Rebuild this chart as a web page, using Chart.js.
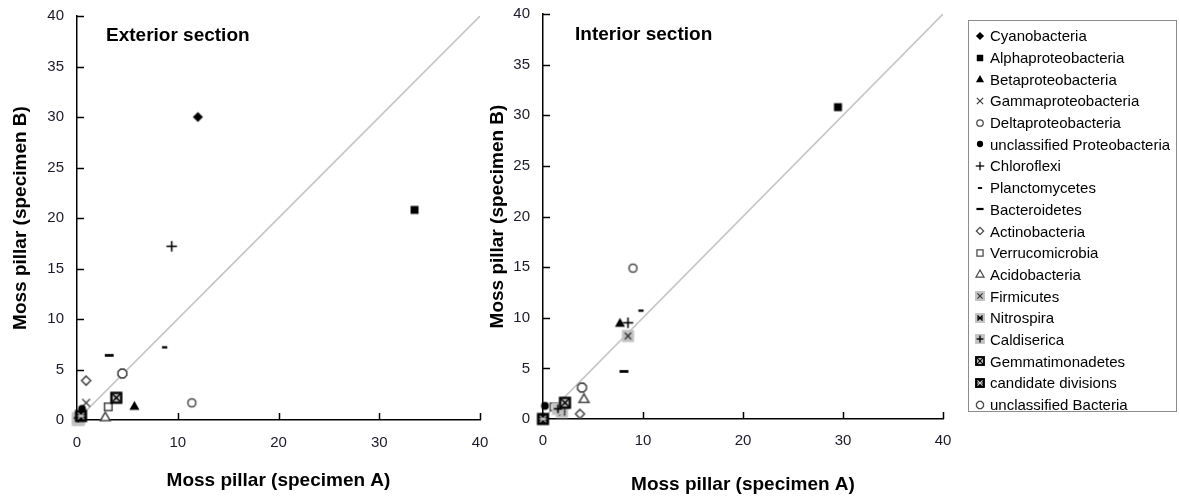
<!DOCTYPE html>
<html>
<head>
<meta charset="utf-8">
<script src="https://cdn.jsdelivr.net/npm/chart.js@4/dist/chart.umd.min.js"></script>
<style>
  html, body { margin: 0; padding: 0; background: #fff; }
  body { width: 1179px; height: 499px; position: relative; overflow: hidden; font-family: "Liberation Sans", Arial, sans-serif; }
  #c1 { position: absolute; left: 0; top: 0; }
  #c2 { position: absolute; left: 470px; top: 0; }
  #legend { position: absolute; left: 968px; top: 20px; width: 209px; height: 392px; border: 1px solid #8c8c8c; box-sizing: border-box; padding-top: 4px; }
  .row { display: flex; align-items: center; height: 21.7px; font-size: 15px; color: #000; white-space: nowrap; }
  .row canvas { margin-left: 1px; }
</style>
</head>
<body>
<canvas id="c1" width="495" height="499"></canvas>
<canvas id="c2" width="490" height="499"></canvas>
<div id="legend"></div>
<script>
// ---- data ----
const categories = ["Cyanobacteria","Alphaproteobacteria","Betaproteobacteria","Gammaproteobacteria","Deltaproteobacteria","unclassified Proteobacteria","Chloroflexi","Planctomycetes","Bacteroidetes","Actinobacteria","Verrucomicrobia","Acidobacteria","Firmicutes","Nitrospira","Caldiserica","Gemmatimonadetes","candidate divisions","unclassified Bacteria"];
const markerTypes = ["diamondFill","squareFill","triFill","x","circleOpen","circleFill","plus","dashShort","dashLong","diamondOpen","squareOpen","triOpen","grayX","grayStar","grayPlus","blackX","blackStar","octOpen"];
const exteriorA = [12.0, 33.5, 5.7, 0.9, 11.4, 0.5, 9.4, 8.7, 3.2, 0.9, 3.1, 2.8, 0.1, 0.2, 0.1, 3.9, 0.4, 4.5];
const exteriorB = [30.0, 20.8, 1.4, 1.7, 1.7, 1.1, 17.2, 7.2, 6.4, 3.9, 1.3, 0.3, 0.0, 0.1, 0.2, 2.2, 0.4, 4.6];
const interiorA = [0.1, 29.5, 7.7, 0.1, 9.0, 0.2, 8.5, 9.8, 8.1, 3.7, 1.1, 4.1, 8.5, 1.9, 1.5, 2.2, 0.0, 3.9];
const interiorB = [0.1, 30.8, 9.5, 0.1, 14.9, 1.3, 9.5, 10.7, 4.7, 0.5, 1.2, 2.0, 8.2, 0.7, 1.0, 1.6, 0.0, 3.1];
const xTicks = [0, 10, 20, 30, 40];
const yTicks = [0, 5, 10, 15, 20, 25, 30, 35, 40];
const panelTitles = ["Exterior section", "Interior section"];
const xTitle = "Moss pillar (specimen A)";
const yTitle = "Moss pillar (specimen B)";

// ---- markers ----
function makeMarker(type, s) {
  const size = Math.ceil(18 * s);
  const c = document.createElement('canvas');
  c.width = size; c.height = size;
  const g = c.getContext('2d');
  g.translate(size / 2, size / 2);
  g.scale(s, s);
  const poly = (pts) => { g.beginPath(); pts.forEach((p, i) => i ? g.lineTo(p[0], p[1]) : g.moveTo(p[0], p[1])); g.closePath(); };
  const line = (a, b, c2, d) => { g.beginPath(); g.moveTo(a, b); g.lineTo(c2, d); g.stroke(); };
  const openStyle = () => { g.fillStyle = '#fff'; g.fill(); g.strokeStyle = '#4a4a4a'; g.lineWidth = 1.5; g.stroke(); };
  switch (type) {
    case 'diamondFill': poly([[0,-4.8],[4.8,0],[0,4.8],[-4.8,0]]); g.fillStyle = '#000'; g.fill(); break;
    case 'squareFill': g.fillStyle = '#000'; g.fillRect(-3.8,-3.8,7.6,7.6); break;
    case 'triFill': poly([[0,-4.8],[4.8,3.8],[-4.8,3.8]]); g.fillStyle = '#000'; g.fill(); break;
    case 'x': g.strokeStyle = '#333'; g.lineWidth = 1.3; line(-3.7,-3.7,3.7,3.7); line(-3.7,3.7,3.7,-3.7); break;
    case 'circleOpen': g.beginPath(); g.arc(0,0,3.8,0,Math.PI*2); openStyle(); break;
    case 'circleFill': g.beginPath(); g.arc(0,0,3.7,0,Math.PI*2); g.fillStyle = '#000'; g.fill(); break;
    case 'plus': g.strokeStyle = '#000'; g.lineWidth = 1.5; line(-5,0,5,0); line(0,-5,0,5); break;
    case 'dashShort': g.fillStyle = '#000'; g.fillRect(-2.5,-1.1,5,2.2); break;
    case 'dashLong': g.fillStyle = '#000'; g.fillRect(-4.2,-1.3,8.4,2.6); break;
    case 'diamondOpen': poly([[0,-4.3],[4.3,0],[0,4.3],[-4.3,0]]); openStyle(); break;
    case 'squareOpen': poly([[-3.6,-3.6],[3.6,-3.6],[3.6,3.6],[-3.6,3.6]]); openStyle(); break;
    case 'triOpen': poly([[0,-4.7],[4.7,3.6],[-4.7,3.6]]); openStyle(); break;
    case 'grayX': g.fillStyle = '#c2c2c2'; g.fillRect(-5.8,-5.8,11.6,11.6); g.strokeStyle = '#333'; g.lineWidth = 1.3; line(-3,-3,3,3); line(-3,3,3,-3); break;
    case 'grayStar': g.fillStyle = '#c2c2c2'; g.fillRect(-5.8,-5.8,11.6,11.6); g.strokeStyle = '#000'; g.lineWidth = 1.5; line(-3,-3,3,3); line(-3,3,3,-3); line(-3.5,0,3.5,0); break;
    case 'grayPlus': g.fillStyle = '#c2c2c2'; g.fillRect(-5.8,-5.8,11.6,11.6); g.strokeStyle = '#000'; g.lineWidth = 1.6; line(-4,0,4,0); line(0,-4,0,4); break;
    case 'blackX': g.fillStyle = '#000'; g.fillRect(-5.8,-5.8,11.6,11.6); g.fillStyle = '#bdbdbd'; g.fillRect(-3.6,-3.6,7.2,7.2); g.strokeStyle = '#000'; g.lineWidth = 1.3; line(-3.6,-3.6,3.6,3.6); line(-3.6,3.6,3.6,-3.6); break;
    case 'blackStar': g.fillStyle = '#000'; g.fillRect(-5.8,-5.8,11.6,11.6); g.strokeStyle = '#d0d0d0'; g.lineWidth = 1.2; line(-3,-3,3,3); line(-3,3,3,-3); line(-3.5,0,3.5,0); break;
    case 'octOpen': {
      const r = 4.5, pts = [];
      for (let i = 0; i < 8; i++) { const a = Math.PI / 8 + i * Math.PI / 4; pts.push([r * Math.cos(a), r * Math.sin(a)]); }
      poly(pts); openStyle(); break;
    }
  }
  return c;
}
const chartMarkers = markerTypes.map(t => makeMarker(t, 1.05));

// ---- plugin: inward ticks and panel title ----
const innerTicks = {
  id: 'innerTicks',
  beforeDatasetsDraw(chart, args, opts) {
    const { ctx, chartArea: a, scales: { x, y } } = chart;
    ctx.save();
    ctx.strokeStyle = '#000';
    ctx.lineWidth = 1.5;
    x.ticks.forEach(t => {
      if (t.value === 0) return;
      const px = Math.round(x.getPixelForValue(t.value)) + 0.5;
      ctx.beginPath(); ctx.moveTo(px, a.bottom); ctx.lineTo(px, a.bottom - 7); ctx.stroke();
    });
    y.ticks.forEach(t => {
      if (t.value === 0) return;
      const py = Math.round(y.getPixelForValue(t.value)) + 0.5;
      ctx.beginPath(); ctx.moveTo(a.left, py); ctx.lineTo(a.left + 7, py); ctx.stroke();
    });
    ctx.font = 'bold 19px "Liberation Sans", Arial, sans-serif';
    ctx.fillStyle = '#000';
    ctx.textBaseline = 'middle';
    ctx.textAlign = 'left';
    ctx.fillText(opts.text, a.left + opts.dx, a.top + opts.dy);
    ctx.restore();
  }
};

function buildChart(id, xs, ys, cfg) {
  const datasets = categories.map((name, i) => ({
    label: name,
    data: [{ x: xs[i], y: ys[i] }],
    pointStyle: chartMarkers[i],
    pointRadius: 5,
    clip: false,
    order: categories.length - i
  }));
  datasets.push({
    label: 'y = x',
    data: [{ x: 0, y: 0 }, { x: 40, y: 40 }],
    showLine: true,
    borderColor: '#c6c6c6',
    borderWidth: 1.6,
    pointRadius: 0,
    order: 100
  });
  return new Chart(document.getElementById(id), {
    type: 'scatter',
    data: { datasets },
    plugins: [innerTicks],
    options: {
      responsive: false,
      animation: false,
      events: [],
      layout: { padding: { left: 0, top: cfg.top, right: cfg.right, bottom: 0 } },
      plugins: {
        legend: { display: false },
        tooltip: { enabled: false },
        innerTicks: { text: cfg.title, dx: cfg.titleDx, dy: cfg.titleDy }
      },
      scales: {
        x: {
          type: 'linear', min: 0, max: 40,
          afterBuildTicks: s => { s.ticks = xTicks.map(v => ({ value: v })); },
          afterFit: s => { s.height = cfg.xh; s.paddingLeft = 0; s.paddingRight = 0; },
          grid: { display: false, drawTicks: false },
          border: { display: true, color: '#000', width: 1.5 },
          ticks: { padding: cfg.xPad, color: '#1a1a2a', font: { size: 15, family: '"Liberation Sans", Arial, sans-serif' } },
          title: { display: true, text: xTitle, color: '#000', padding: { top: 0, bottom: cfg.xtPad }, font: { size: 19, weight: 'bold', family: '"Liberation Sans", Arial, sans-serif' } }
        },
        y: {
          type: 'linear', min: 0, max: 40,
          afterBuildTicks: s => { s.ticks = yTicks.map(v => ({ value: v })); },
          afterFit: s => { s.width = cfg.yw; s.paddingTop = 0; s.paddingBottom = 0; },
          grid: { display: false, drawTicks: false },
          border: { display: true, color: '#000', width: 1.5 },
          ticks: { padding: 13, color: '#1a1a2a', font: { size: 15, family: '"Liberation Sans", Arial, sans-serif' } },
          title: { display: true, text: yTitle, color: '#000', padding: { top: cfg.ytPad, bottom: 0 }, font: { size: 19, weight: 'bold', family: '"Liberation Sans", Arial, sans-serif' } }
        }
      }
    }
  });
}

buildChart('c1', exteriorA, exteriorB, { top: 16, right: 15, xh: 79, yw: 77, xPad: 14, xtPad: 7, ytPad: 9, title: panelTitles[0], titleDx: 29, titleDy: 20 });
buildChart('c2', interiorA, interiorB, { top: 14, right: 17, xh: 80, yw: 73, xPad: 13, xtPad: 3, ytPad: 16, title: panelTitles[1], titleDx: 32, titleDy: 21 });

// ---- legend ----
const legend = document.getElementById('legend');
categories.forEach((name, i) => {
  const row = document.createElement('div');
  row.className = 'row';
  const m = makeMarker(markerTypes[i], 0.85);
  const holder = document.createElement('canvas');
  holder.width = 20; holder.height = 20;
  holder.getContext('2d').drawImage(m, Math.round((20 - m.width) / 2), Math.round((20 - m.height) / 2));
  const span = document.createElement('span');
  span.textContent = name;
  row.appendChild(holder);
  row.appendChild(span);
  legend.appendChild(row);
});
</script>
</body>
</html>
